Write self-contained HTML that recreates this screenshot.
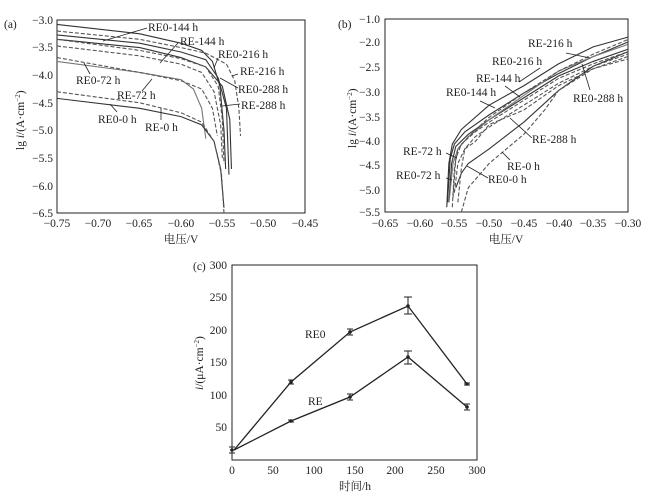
<!DOCTYPE html>
<html><head><meta charset="utf-8"><style>
body{margin:0;background:#fff}
svg{display:block}
text{font-family:"Liberation Serif","Noto Serif CJK SC",serif;font-size:11.5px;fill:#222}
.c{fill:none;stroke:#333;stroke-width:1.1;vector-effect:non-scaling-stroke}
.d{fill:none;stroke:#555;stroke-width:1.1;stroke-dasharray:4 2;vector-effect:non-scaling-stroke}
.l{fill:none;stroke:#777;stroke-width:1.1;vector-effect:non-scaling-stroke}
.ax{fill:none;stroke:#222;stroke-width:1}
.ld{stroke:#222;stroke-width:0.8}
</style></head><body>
<svg width="659" height="500" viewBox="0 0 659 500">
<!-- Panel a -->
<rect class="ax" x="57" y="20" width="248" height="193"/>
<g text-anchor="end">
<text x="53" y="24">−3.0</text><text x="53" y="51">−3.5</text><text x="53" y="79">−4.0</text><text x="53" y="107">−4.5</text><text x="53" y="134">−5.0</text><text x="53" y="162">−5.5</text><text x="53" y="190">−6.0</text><text x="53" y="217">−6.5</text>
</g>
<g text-anchor="middle">
<text x="57" y="227">−0.75</text><text x="98" y="227">−0.70</text><text x="139" y="227">−0.65</text><text x="181" y="227">−0.60</text><text x="222" y="227">−0.55</text><text x="263" y="227">−0.50</text><text x="305" y="227">−0.45</text>
<text x="181" y="243">电压/V</text>
</g>
<text x="4" y="28">(a)</text>
<text transform="translate(24,150) rotate(-90)">lg <tspan font-style="italic">i</tspan>/(A·cm<tspan font-size="7" dy="-4">−2</tspan><tspan dy="4">)</tspan></text>
<g transform="translate(57,20) scale(826.7,-55.2) translate(0.75,3)">
<path class="c" d="M-0.75,-3.08 L-0.65,-3.25 L-0.6,-3.42 L-0.575,-3.55 L-0.562,-3.75 L-0.553,-4.2 L-0.548,-5 L-0.546,-5.7"/>
<path class="c" d="M-0.75,-3.27 L-0.65,-3.42 L-0.6,-3.58 L-0.57,-3.72 L-0.555,-4.05 L-0.545,-4.6 L-0.542,-5.8"/>
<path class="c" d="M-0.75,-3.35 L-0.65,-3.5 L-0.6,-3.68 L-0.57,-3.85 L-0.55,-4.2 L-0.541,-4.8 L-0.539,-5.7"/>
<path class="l" d="M-0.75,-3.75 L-0.65,-3.95 L-0.6,-4.08 L-0.585,-4.25 L-0.575,-4.6 L-0.57,-5.15"/>
<path class="c" d="M-0.75,-4.42 L-0.65,-4.6 L-0.6,-4.75 L-0.575,-4.9 L-0.56,-5.2 L-0.552,-5.7 L-0.548,-6.4"/>
<path class="d" d="M-0.75,-3.2 L-0.65,-3.35 L-0.6,-3.5 L-0.57,-3.6 L-0.545,-3.8 L-0.535,-4.1 L-0.53,-4.6 L-0.528,-5.1"/>
<path class="d" d="M-0.75,-3.35 L-0.65,-3.55 L-0.6,-3.7 L-0.57,-3.85 L-0.555,-4.2 L-0.55,-4.8 L-0.548,-5.6"/>
<path class="d" d="M-0.75,-3.47 L-0.65,-3.65 L-0.6,-3.8 L-0.575,-3.95 L-0.56,-4.3 L-0.552,-4.9 L-0.55,-5.5"/>
<path class="d" d="M-0.75,-3.68 L-0.65,-3.95 L-0.6,-4.1 L-0.575,-4.25 L-0.562,-4.6 L-0.556,-5.1"/>
<path class="d" d="M-0.75,-4.3 L-0.65,-4.5 L-0.6,-4.68 L-0.575,-4.85 L-0.56,-5.2 L-0.551,-5.8 L-0.548,-6.5"/>
</g>
<g>
<line class="ld" x1="103" y1="41" x2="147" y2="28"/><text x="148" y="31">RE0-144 h</text>
<line class="ld" x1="160" y1="63" x2="178" y2="43"/><text x="180" y="45">RE-144 h</text>
<line class="ld" x1="214" y1="68" x2="218" y2="58"/><text x="218" y="58">RE0-216 h</text>
<line class="ld" x1="232" y1="76" x2="238" y2="74"/><text x="240" y="75">RE-216 h</text>
<line class="ld" x1="220" y1="78" x2="238" y2="88"/><text x="238" y="93">RE0-288 h</text>
<line class="ld" x1="222" y1="106" x2="240" y2="104"/><text x="241" y="109">RE-288 h</text>
<line class="ld" x1="84" y1="63" x2="90" y2="74"/><text x="76" y="84">RE0-72 h</text>
<line class="ld" x1="142" y1="91" x2="152" y2="79"/><text x="117" y="99">RE-72 h</text>
<line class="ld" x1="110" y1="104" x2="117" y2="112"/><text x="98" y="123">RE0-0 h</text>
<line class="ld" x1="161" y1="108" x2="161" y2="120"/><text x="145" y="131">RE-0 h</text>
</g>

<!-- Panel b -->
<rect class="ax" x="385" y="19" width="243" height="193"/>
<g text-anchor="end">
<text x="380" y="23">−1.0</text><text x="380" y="46">−2.0</text><text x="380" y="71">−2.5</text><text x="380" y="96">−3.0</text><text x="380" y="121">−3.5</text><text x="380" y="145">−4.0</text><text x="380" y="169">−4.5</text><text x="380" y="194">−5.0</text><text x="380" y="216">−5.5</text>
</g>
<g text-anchor="middle">
<text x="385" y="227">−0.65</text><text x="420" y="227">−0.60</text><text x="454" y="227">−0.55</text><text x="489" y="227">−0.50</text><text x="524" y="227">−0.45</text><text x="559" y="227">−0.40</text><text x="593" y="227">−0.35</text><text x="628" y="227">−0.30</text>
<text x="506" y="243">电压/V</text>
</g>
<text x="338" y="28">(b)</text>
<text transform="translate(356,148) rotate(-90)">lg <tspan font-style="italic">i</tspan>/(A·cm<tspan font-size="7" dy="-4">−2</tspan><tspan dy="4">)</tspan></text>
<g transform="translate(385,19) scale(694,-48.6) translate(0.65,1.527)">
<path class="c" d="M-0.561,-5.4 L-0.558,-4.5 L-0.553,-4.1 L-0.54,-3.8 L-0.5,-3.3 L-0.45,-2.9 L-0.4,-2.45 L-0.35,-2.1 L-0.3,-1.9"/>
<path class="c" d="M-0.56,-5.3 L-0.556,-4.4 L-0.55,-4.1 L-0.535,-3.85 L-0.5,-3.5 L-0.45,-3.05 L-0.4,-2.65 L-0.35,-2.3 L-0.3,-2.0"/>
<path class="c" d="M-0.558,-5.3 L-0.554,-4.5 L-0.548,-4.15 L-0.53,-3.9 L-0.5,-3.6 L-0.45,-3.15 L-0.4,-2.7 L-0.35,-2.4 L-0.3,-2.15"/>
<path class="l" d="M-0.557,-5.2 L-0.552,-4.5 L-0.545,-4.2 L-0.53,-3.95 L-0.5,-3.6 L-0.45,-3.1 L-0.4,-2.6 L-0.35,-2.3 L-0.3,-2.05"/>
<path class="c" d="M-0.548,-5.0 L-0.54,-4.7 L-0.53,-4.5 L-0.5,-4.2 L-0.45,-3.65 L-0.4,-3.0 L-0.35,-2.5 L-0.3,-2.2"/>
<path class="d" d="M-0.553,-5.4 L-0.55,-4.6 L-0.545,-4.2 L-0.53,-3.95 L-0.5,-3.55 L-0.45,-3.05 L-0.4,-2.6 L-0.35,-2.25 L-0.3,-1.95"/>
<path class="d" d="M-0.552,-5.2 L-0.548,-4.4 L-0.54,-4.1 L-0.52,-3.85 L-0.5,-3.65 L-0.45,-3.2 L-0.4,-2.75 L-0.35,-2.45 L-0.3,-2.2"/>
<path class="d" d="M-0.55,-5.1 L-0.545,-4.5 L-0.535,-4.2 L-0.52,-3.95 L-0.5,-3.75 L-0.45,-3.3 L-0.4,-2.85 L-0.35,-2.5 L-0.3,-2.25"/>
<path class="d" d="M-0.545,-5.3 L-0.54,-4.6 L-0.535,-4.2 L-0.52,-4.05 L-0.5,-3.7 L-0.45,-3.4 L-0.4,-2.9 L-0.35,-2.55 L-0.3,-2.3"/>
<path class="d" d="M-0.54,-5.5 L-0.53,-5.0 L-0.5,-4.5 L-0.45,-3.9 L-0.42,-3.4 L-0.4,-3.0 L-0.35,-2.55 L-0.3,-2.35"/>
</g>
<g>
<line class="ld" x1="566" y1="53" x2="590" y2="58"/><text x="528" y="47">RE-216 h</text>
<line class="ld" x1="519" y1="82" x2="540" y2="68"/><text x="492" y="65">RE0-216 h</text>
<line class="ld" x1="505" y1="86" x2="520" y2="97"/><text x="476" y="82">RE-144 h</text>
<line class="ld" x1="480" y1="101" x2="495" y2="108"/><text x="446" y="96">RE0-144 h</text>
<line class="ld" x1="582" y1="64" x2="590" y2="90"/><text x="573" y="102">RE0-288 h</text>
<line class="ld" x1="510" y1="118" x2="532" y2="138"/><text x="532" y="143">RE-288 h</text>
<line class="ld" x1="446" y1="153" x2="457" y2="158"/><text x="403" y="155">RE-72 h</text>
<line class="ld" x1="446" y1="178" x2="452" y2="180"/><text x="396" y="179">RE0-72 h</text>
<line class="ld" x1="502" y1="152" x2="510" y2="160"/><text x="507" y="170">RE-0 h</text>
<line class="ld" x1="467" y1="166" x2="488" y2="178"/><text x="488" y="183">RE0-0 h</text>
</g>

<!-- Panel c -->
<rect class="ax" x="232" y="265" width="245" height="195"/>
<g text-anchor="end">
<text x="227" y="269">300</text><text x="227" y="301">250</text><text x="227" y="334">200</text><text x="227" y="366">150</text><text x="227" y="399">100</text><text x="227" y="431">50</text>
</g>
<g text-anchor="middle">
<text x="232" y="474">0</text><text x="273" y="474">50</text><text x="314" y="474">100</text><text x="355" y="474">150</text><text x="395" y="474">200</text><text x="436" y="474">250</text><text x="477" y="474">300</text>
<text x="355" y="490">时间/h</text>
</g>
<text x="193" y="270">(c)</text>
<text transform="translate(203,390) rotate(-90)"><tspan font-style="italic">i</tspan>/(μA·cm<tspan font-size="7" dy="-4">−2</tspan><tspan dy="4">)</tspan></text>
<text x="305" y="338" font-size="12">RE0</text>
<text x="308" y="405" font-size="12">RE</text>
<polyline fill="none" stroke="#222" stroke-width="1.3" points="234,450 291,382 350,332 408,306 467,384"/>
<polyline fill="none" stroke="#222" stroke-width="1.3" points="234,450 291,421 350,397 408,357 467,407"/>
<g stroke="#222" stroke-width="1">
<path d="M232,447v6M229,447h6M229,453h6"/>
<path d="M291,380v4M288,380h6M288,384h6"/>
<path d="M350,329v6M347,329h6M347,335h6"/>
<path d="M408,297v17M404,297h8M404,314h8"/>
<path d="M467,383v2M464,383h6M464,385h6"/>
<path d="M291,420v2M288,420h6M288,422h6"/>
<path d="M350,394v6M347,394h6M347,400h6"/>
<path d="M408,351v13M404,351h8M404,364h8"/>
<path d="M467,404v6M464,404h6M464,410h6"/>
</g>
<g fill="#222"><circle cx="232" cy="450" r="1.8"/><circle cx="291" cy="382" r="1.8"/><circle cx="350" cy="332" r="1.8"/><circle cx="408" cy="306" r="1.8"/><circle cx="467" cy="384" r="1.8"/><circle cx="291" cy="421" r="1.8"/><circle cx="350" cy="397" r="1.8"/><circle cx="408" cy="357" r="1.8"/><circle cx="467" cy="407" r="1.8"/></g>
</svg>
</body></html>
